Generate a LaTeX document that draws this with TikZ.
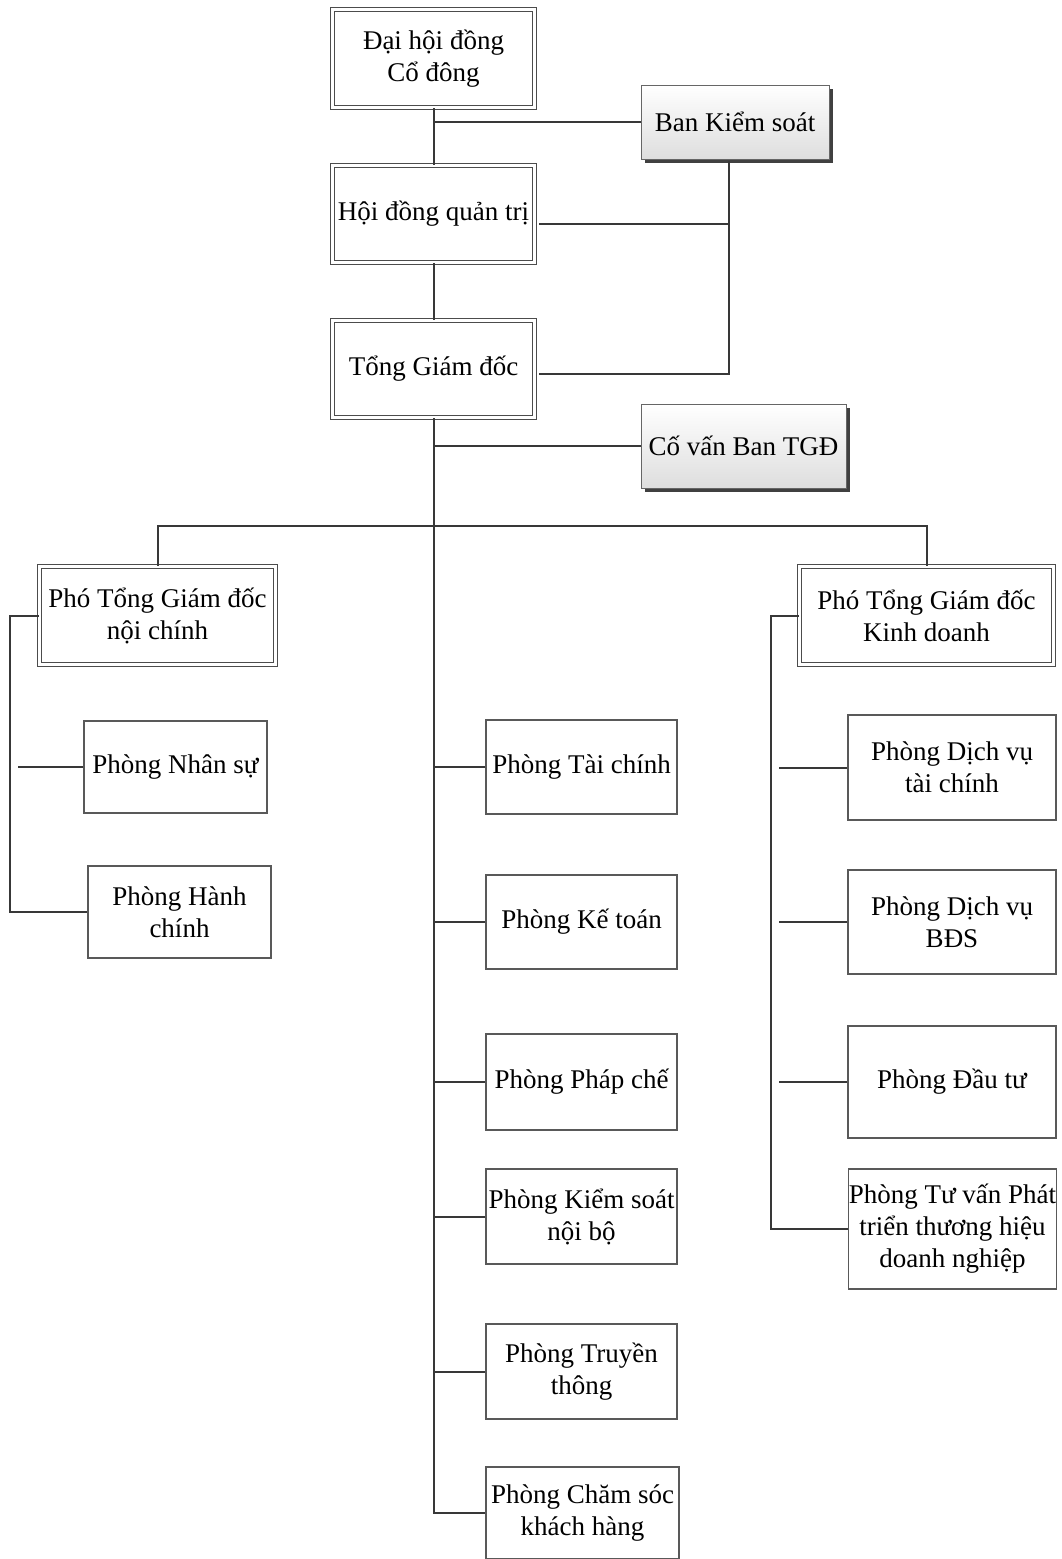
\documentclass[tikz,border=0pt]{standalone}
\usepackage{fontspec}
\setmainfont{Liberation Serif}
\usetikzlibrary{shadows,calc}

\begin{document}
\begin{tikzpicture}[x=1pt, y=-1pt]
            % Estilos
            \tikzstyle{chief}=[rectangle, draw=black!70, line width=1.1pt, double=white, double distance=2.3pt, inner sep=0pt, align=center, font=\fontsize{27}{32}\selectfont]
            \tikzstyle{side}=[rectangle, draw=black!60, line width=0.9pt, top color=white, bottom color=black!13, drop shadow={shadow xshift=3.5pt, shadow yshift=-3.5pt, fill=black!75, opacity=1}, inner sep=0pt, align=center, font=\fontsize{27}{32}\selectfont]
            \tikzstyle{dept}=[rectangle, draw=black!65, line width=1.1pt, inner sep=0pt, align=center, font=\fontsize{27}{32}\selectfont]
            \tikzstyle{link}=[draw=black!78, line width=2pt]

            \useasboundingbox (0,0) rectangle (1061,1559);

            % Nós
            \node[chief, minimum width=202pt, minimum height=98pt] (dhd) at (433.5,58.5) {Đại hội đồng\\Cổ đông};
            \node[chief, minimum width=202pt, minimum height=97pt] (hdqt) at (433.5,214) {Hội đồng quản trị};
            \node[chief, minimum width=202pt, minimum height=97pt] (tgd) at (433.5,369) {Tổng Giám đốc};
            \node[side, minimum width=188pt, minimum height=74pt] (bks) at (735,122) {Ban Kiểm soát};
            \node[side, minimum width=205pt, minimum height=84pt] (cv) at (743.5,446) {Cố vấn Ban TGĐ};
            \node[chief, minimum width=236pt, minimum height=98pt] (pnc) at (157.5,615.5) {Phó Tổng Giám đốc\\nội chính};
            \node[chief, minimum width=254pt, minimum height=98pt] (pkd) at (926.5,615.5) {Phó Tổng Giám đốc\\Kinh doanh};

            \node[dept, minimum width=183pt, minimum height=92pt] (pns) at (175.5,767) {Phòng Nhân sự};
            \node[dept, minimum width=183pt, minimum height=92pt] (phc) at (179.5,912) {Phòng Hành\\chính};

            \node[dept, minimum width=191pt, minimum height=94pt] (ptc) at (581.5,767) {Phòng Tài chính};
            \node[dept, minimum width=191pt, minimum height=94pt] (pkt) at (581.5,922) {Phòng Kế toán};
            \node[dept, minimum width=191pt, minimum height=96pt] (ppc) at (581.5,1082) {Phòng Pháp chế};
            \node[dept, minimum width=191pt, minimum height=95pt] (pks) at (581.5,1216.5) {Phòng Kiểm soát\\nội bộ};
            \node[dept, minimum width=191pt, minimum height=95pt] (ptt) at (581.5,1371.5) {Phòng Truyền\\thông};
            \node[dept, minimum width=193pt, minimum height=92pt] (pcs) at (582.5,1513) {Phòng Chăm sóc\\khách hàng};

            \node[dept, minimum width=208pt, minimum height=105pt] (pdv) at (952,767.5) {Phòng Dịch vụ\\tài chính};
            \node[dept, minimum width=208pt, minimum height=104pt] (pbds) at (952,922) {Phòng Dịch vụ\\BĐS};
            \node[dept, minimum width=208pt, minimum height=112pt] (pdt) at (952,1082) {Phòng Đầu tư};
            \node[dept, minimum width=207pt, minimum height=120pt] (ptv) at (952.5,1229) {Phòng Tư vấn Phát\\triển thương hiệu\\doanh nghiệp};

            \coordinate (ks) at (729,161);
            \coordinate (lnc) at (10,615.5);
            \coordinate (lkd) at (771,615.5);

            % Arestas
            \draw[link] (dhd) -- (hdqt);
            \draw[link] (hdqt) -- (tgd);
            \draw[link] (tgd) |- (pcs);
            \draw[link] (bks.west) -- (bks.west -| dhd.south);
            \draw[link] (ks) |- ([xshift=4pt, yshift=-5pt]tgd.east);
            \draw[link] ([xshift=4pt, yshift=-10pt]hdqt.east) -- ([yshift=-10pt]hdqt.east -| ks);
            \draw[link] (cv.west) -- (cv.west -| tgd.south);
            \draw[link] (pnc.north) -- ++(0,-40) -| (pkd.north);

            \draw[link] (pnc.west) -- (lnc) |- (phc.west);
            \draw[link] (pns.west) -- ++(-65,0);

            \foreach \n in {ptc,pkt,ppc,pks,ptt}
                \draw[link] (\n.west) -- (\n.west -| tgd.south);

            \draw[link] (pkd.west) -- (lkd) |- (ptv.west);
            \foreach \n in {pdv,pbds,pdt}
                \draw[link] (\n.west) -- ++(-68,0);
        \end{tikzpicture}
\end{document}
